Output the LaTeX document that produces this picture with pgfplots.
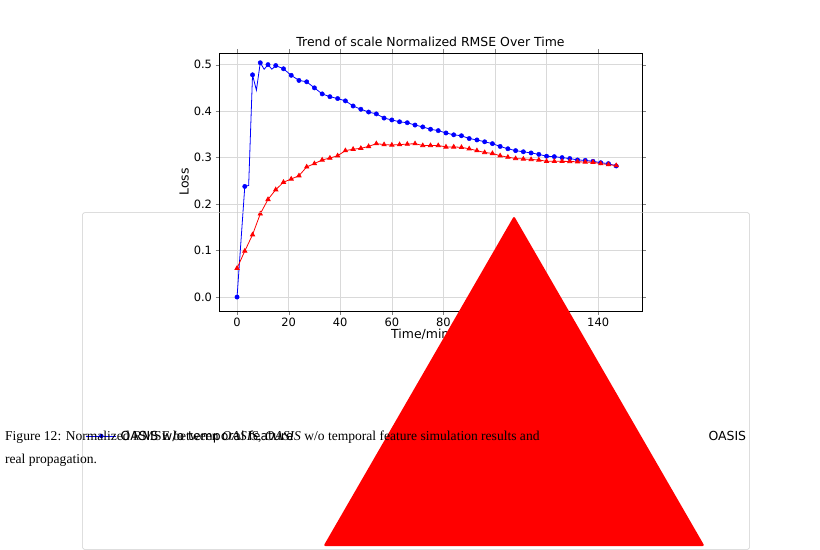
\documentclass[border=0pt]{standalone}
\usepackage{pgfplots}
\pgfplotsset{compat=1.18}
\usetikzlibrary{shapes.geometric}
\usepackage{fontspec}
\setmainfont{DejaVu Sans}
\newfontfamily\capfont{Liberation Serif}
\begin{document}
\begin{tikzpicture}
\path[fill=white] (0,0) rectangle (820bp,-477bp);
\begin{axis}[at={(219bp,-311bp)},anchor=south west,scale only axis,
width=423bp,height=258bp,
xmin=-7,xmax=157,ymin=-0.03,ymax=0.525,
xtick={0,20,...,140},ytick={0,0.1,...,0.5},
yticklabel style={/pgf/number format/.cd,fixed,fixed zerofill,precision=1},
/pgf/number format/assume math mode=true,
tick label style={font=\fontsize{11.5}{13}\selectfont},
label style={font=\fontsize{12.5}{14}\selectfont},
title style={font=\fontsize{12.5}{14}\selectfont,yshift=-3bp},
title={Trend of scale Normalized RMSE Over Time},
xlabel={Time/minute},ylabel={Loss},
xlabel style={yshift=4bp},ylabel style={yshift=-2bp},
grid=major,grid style={gray!30,line width=0.6pt},
tick align=outside,major tick length=3.5bp,
axis line style={line width=0.6pt}]
\addplot[blue,line width=0.8pt] coordinates {(0,0)(3,0.238)(4.5,0.24)(6,0.478)(7.5,0.445)(9,0.504)(10.5,0.49)(12,0.50)(13.5,0.49)(15,0.498)(18,0.491)(21,0.477)(24,0.466)(27,0.463)(30,0.450)(33,0.437)(36,0.431)(39,0.427)(42,0.422)(45,0.411)(48,0.404)(51,0.398)(54,0.394)(57,0.385)(60,0.381)(63,0.377)(66,0.375)(69,0.370)(72,0.366)(75,0.361)(78,0.358)(81,0.353)(84,0.349)(87,0.347)(90,0.341)(93,0.338)(96,0.334)(99,0.330)(102,0.324)(105,0.319)(108,0.315)(111,0.3125)(114,0.310)(117,0.307)(120,0.303)(123,0.302)(126,0.300)(129,0.298)(132,0.295)(135,0.294)(138,0.292)(141,0.289)(144,0.287)(147,0.282)};
\addplot[blue,only marks,mark=*,mark size=2.2bp] coordinates {(0,0)(3,0.238)(6,0.478)(9,0.504)(12,0.50)(15,0.498)(18,0.491)(21,0.477)(24,0.466)(27,0.463)(30,0.450)(33,0.437)(36,0.431)(39,0.427)(42,0.422)(45,0.411)(48,0.404)(51,0.398)(54,0.394)(57,0.385)(60,0.381)(63,0.377)(66,0.375)(69,0.370)(72,0.366)(75,0.361)(78,0.358)(81,0.353)(84,0.349)(87,0.347)(90,0.341)(93,0.338)(96,0.334)(99,0.330)(102,0.324)(105,0.319)(108,0.315)(111,0.3125)(114,0.310)(117,0.307)(120,0.303)(123,0.302)(126,0.300)(129,0.298)(132,0.295)(135,0.294)(138,0.292)(141,0.289)(144,0.287)(147,0.282)};
\addplot[red,line width=0.8pt,mark=triangle*,mark size=2.4bp] coordinates {(0,0.062)(3,0.099)(6,0.134)(9,0.179)(12,0.210)(15,0.231)(18,0.247)(21,0.254)(24,0.261)(27,0.280)(30,0.287)(33,0.295)(36,0.299)(39,0.304)(42,0.315)(45,0.318)(48,0.320)(51,0.324)(54,0.330)(57,0.328)(60,0.327)(63,0.328)(66,0.329)(69,0.330)(72,0.326)(75,0.326)(78,0.326)(81,0.323)(84,0.323)(87,0.322)(90,0.319)(93,0.315)(96,0.311)(99,0.309)(102,0.304)(105,0.301)(108,0.298)(111,0.297)(114,0.296)(117,0.295)(120,0.292)(123,0.292)(126,0.292)(129,0.2916)(132,0.291)(135,0.2905)(138,0.290)(141,0.287)(144,0.285)(147,0.283)};
\end{axis}
\node[draw=gray!40,rounded corners=2bp,line width=0.6pt,minimum width=440bp,minimum height=30bp,font=\fontsize{12.5}{14}\selectfont] at (416bp,-381bp) {%
\tikz[baseline=-0.6ex]{\draw[blue,line width=0.8pt](0,0)--(30bp,0);\fill[blue](15bp,0)circle(2.2bp);}\ OASIS w/o temporal feature\hspace{30bp}%
\tikz[baseline=-0.6ex]{\draw[red,line width=0.8pt](0,0)--(30bp,0);\node[red,fill,regular polygon,regular polygon sides=3,inner sep=1.4bp] at (15bp,0){};}\ OASIS};
\node[anchor=base west,font=\capfont\fontsize{13.6}{16}\selectfont,inner sep=0] at (5bp,-440bp) {Figure 12: Normalized RMSE between \textit{OASIS}, \textit{OASIS} w/o temporal feature simulation results and};
\node[anchor=base west,font=\capfont\fontsize{13.6}{16}\selectfont,inner sep=0] at (5bp,-463bp) {real propagation.};
\end{tikzpicture}
\end{document}
